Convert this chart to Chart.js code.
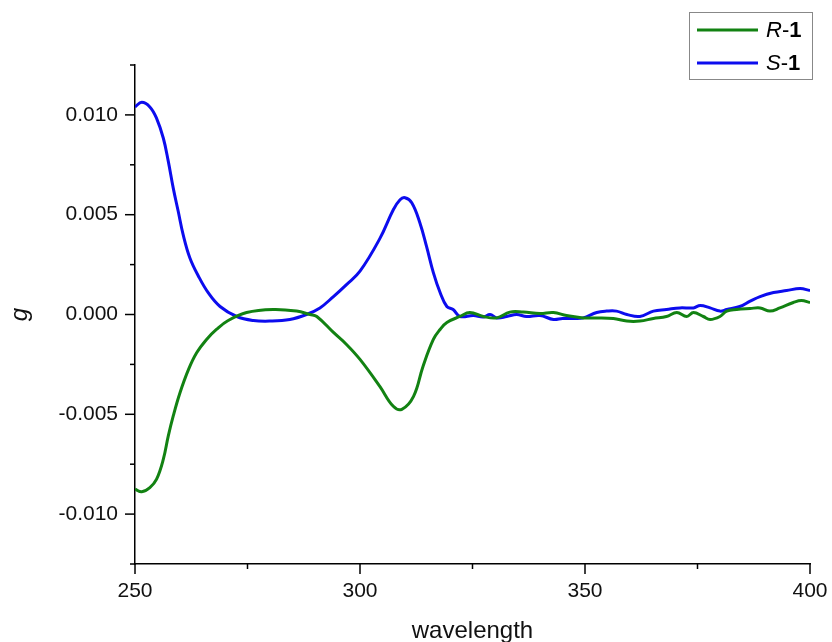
<!DOCTYPE html>
<html>
<head>
<meta charset="utf-8">
<script src="https://cdn.jsdelivr.net/npm/chart.js@4.4.0/dist/chart.umd.min.js"></script>
<style>
  html, body { margin: 0; padding: 0; background: #fff; }
  #wrap { width: 832px; height: 642px; }
</style>
</head>
<body>
<div id="wrap"><canvas id="cd" width="832" height="642"></canvas></div>
<script>
// --- datos ---
const rWavelength = [250, 251.5, 253.3, 254.8, 256.3, 257.4, 258.5, 260, 261.9, 263.7, 265.9, 268.1, 270.7, 274.8, 280.7, 285.9, 288.9, 290.4, 294.1, 297, 300, 304.4, 307.4, 309.3, 311.9, 314, 316.3, 317.8, 319.3, 322.2, 324.4,
  327.4, 330.4, 333.3, 336.3, 340, 343, 345.9, 349.6, 352.6, 356.3, 359.3, 362.2, 365.2, 368.1, 370.4, 372.6, 374.1, 376.3, 377.8, 380, 381.5, 383.7, 386.7, 388.9, 391.1, 393.3, 396.3, 398.1, 400];
const rG = [-0.00875, -0.00888, -0.00867, -0.00825, -0.00725, -0.00608, -0.00508, -0.00392, -0.00275, -0.00192, -0.00125, -0.00075, -0.0003, 0.0001, 0.00025, 0.00017, 0.0, -0.0001, -0.0009, -0.0015, -0.00225, -0.0036, -0.0046, -0.00475, -0.0041, -0.0026, -0.00125, -0.00075, -0.0004, -0.0001, 0.0001,
  -0.0001, -0.00017, 0.00012, 0.00012, 0.00005, 0.0001, -0.00005, -0.00017, -0.00017, -0.0002, -0.00033, -0.00033, -0.0002, -0.0001, 0.0001, -0.0001, 0.0001, -0.0001, -0.00025, -0.0001, 0.00017, 0.00025, 0.0003, 0.00033, 0.00017, 0.00033, 0.0006, 0.0007, 0.0006];

const sWavelength = [250, 251.5, 253.3, 254.8, 256.3, 257.4, 258.5, 259.6, 260.7, 262.2, 264.1, 266.3, 268.9, 272.6, 276.3, 280, 284.4, 288.1, 291.1, 294.1, 297, 300, 304.4, 307.4, 308.9, 310, 311.5, 313.3, 314.8, 316.3, 317.8, 319.3, 320.7, 322.2,
  325.2, 327.4, 328.9, 330.4, 332.6, 334.8, 337, 340, 343, 345, 347.4, 349.6, 352.6, 354.8, 357, 359.3, 362.2, 365.2, 368.1, 371.1, 374.1, 375.6, 377.8, 380, 381.5, 384.4, 386.7, 388.9, 391.9, 394.8, 397.8, 400];
const sG = [0.0104, 0.01063, 0.0104, 0.00983, 0.00883, 0.00767, 0.00633, 0.00517, 0.004, 0.00283, 0.00192, 0.00108, 0.0004, -0.0001, -0.0003, -0.00033, -0.00025, 0.0, 0.00033, 0.0009, 0.0015, 0.00217, 0.0038, 0.00525, 0.00575, 0.00585, 0.0056, 0.0046, 0.0034, 0.0021, 0.0011, 0.0004, 0.00025, -0.0001,
  -0.00005, -0.00013, 0.0, -0.00017, -0.0001, 0.0, -0.0001, -0.00005, -0.00025, -0.0002, -0.0002, -0.00017, 0.0001, 0.00017, 0.00017, 0.0, -0.0001, 0.00017, 0.00025, 0.00033, 0.00033, 0.00045, 0.00033, 0.00017, 0.00025, 0.0004, 0.00067, 0.0009, 0.0011, 0.0012, 0.0013, 0.0012];

const seriesLabels = ["R-1", "S-1"];
const xMin = 250, xMax = 400, xStep = 25, xLabelEvery = 50;
const yMin = -0.0125, yMax = 0.0125, yStep = 0.0025, yLabelEvery = 0.005;

const FONT = "'Liberation Sans', Arial, sans-serif";

function isMajor(v, every) {
  let r = Math.abs(v / every - Math.round(v / every));
  return r < 1e-6;
}

// ticks mayores y menores, hacia afuera
const tickMarks = {
  id: "tickMarks",
  afterDraw(chart) {
    let ctx = chart.ctx;
    ctx.save();
    ctx.strokeStyle = "#000";
    ctx.lineWidth = 1.5;
    let xs = chart.scales.x, ys = chart.scales.y;
    let ca = chart.chartArea;
    xs.ticks.forEach(t => {
      let px = xs.getPixelForValue(t.value);
      let len = isMajor(t.value, xLabelEvery) ? 10 : 5;
      ctx.beginPath(); ctx.moveTo(px, ca.bottom); ctx.lineTo(px, ca.bottom + len); ctx.stroke();
    });
    ys.ticks.forEach(t => {
      let py = ys.getPixelForValue(t.value);
      let len = isMajor(t.value, yLabelEvery) ? 10 : 5;
      ctx.beginPath(); ctx.moveTo(ca.left, py); ctx.lineTo(ca.left - len, py); ctx.stroke();
    });
    ctx.restore();
  }
};

// leyenda con letra cursiva y número en negrita
const boxLegend = {
  id: "boxLegend",
  afterDraw(chart, args, opts) {
    let ctx = chart.ctx, ca = chart.chartArea;
    let right = ca.right + 2, left = right - opts.width, top = opts.top;
    ctx.save();
    ctx.fillStyle = "#fff";
    ctx.fillRect(left, top, opts.width, opts.height);
    ctx.strokeStyle = "#888";
    ctx.lineWidth = 1;
    ctx.strokeRect(left + 0.5, top + 0.5, opts.width, opts.height);
    chart.data.datasets.forEach((ds, i) => {
      let y = top + opts.firstRow + i * opts.rowGap;
      ctx.strokeStyle = ds.borderColor;
      ctx.lineWidth = ds.borderWidth;
      ctx.beginPath(); ctx.moveTo(left + 8, y); ctx.lineTo(left + 69, y); ctx.stroke();
      let m = ds.label.match(/^(\w)(-)(.*)$/);
      let parts = m ? [["italic ", m[1]], ["", m[2]], ["bold ", m[3]]] : [["", ds.label]];
      let x = left + 77;
      ctx.fillStyle = "#000";
      ctx.textBaseline = "middle";
      parts.forEach(([st, txt]) => {
        ctx.font = st + opts.fontSize + "px " + FONT;
        ctx.fillText(txt, x, y + 1);
        x += ctx.measureText(txt).width;
      });
    });
    ctx.restore();
  }
};

new Chart(document.getElementById("cd"), {
  type: "line",
  data: {
    datasets: [
      { label: seriesLabels[0], data: rWavelength.map((w, i) => ({ x: w, y: rG[i] })), borderColor: "#128212", borderWidth: 3 },
      { label: seriesLabels[1], data: sWavelength.map((w, i) => ({ x: w, y: sG[i] })), borderColor: "#0c0cee", borderWidth: 3 }
    ]
  },
  options: {
    responsive: false,
    animation: false,
    layout: { padding: { top: 65, right: 22, left: 0, bottom: 0 } },
    elements: { point: { radius: 0 }, line: { tension: 0.4, fill: false } },
    plugins: {
      legend: { display: false },
      tooltip: { enabled: false },
      boxLegend: { width: 123, height: 67, top: 12, firstRow: 18, rowGap: 33, fontSize: 22 }
    },
    scales: {
      x: {
        type: "linear", min: xMin, max: xMax,
        afterFit: s => { s.height = 78; s.paddingLeft = 0; s.paddingRight = 0; },
        grid: { display: false, drawTicks: false },
        border: { display: true, color: "#000", width: 1.5 },
        ticks: {
          stepSize: xStep, padding: 15, maxRotation: 0, autoSkip: false,
          color: "#111", font: { family: FONT, size: 21 },
          callback: v => isMajor(v, xLabelEvery) ? String(Math.round(v)) : ""
        },
        title: { display: true, text: "wavelength", color: "#111", font: { family: FONT, size: 24 }, padding: { top: 0, bottom: -4 } }
      },
      y: {
        min: yMin, max: yMax,
        afterFit: s => { s.width = 135; s.paddingTop = 0; s.paddingBottom = 0; },
        grid: { display: false, drawTicks: false },
        border: { display: true, color: "#000", width: 1.5 },
        ticks: {
          stepSize: yStep, padding: 17, autoSkip: false,
          color: "#111", font: { family: FONT, size: 21 },
          callback: v => isMajor(v, yLabelEvery) ? (Math.abs(v) < 1e-9 ? "0.000" : v.toFixed(3)) : ""
        },
        title: { display: true, text: "g", color: "#111", font: { family: FONT, size: 24, style: "italic" }, padding: { top: 6, bottom: 0 } }
      }
    }
  },
  plugins: [tickMarks, boxLegend]
});
</script>
</body>
</html>
